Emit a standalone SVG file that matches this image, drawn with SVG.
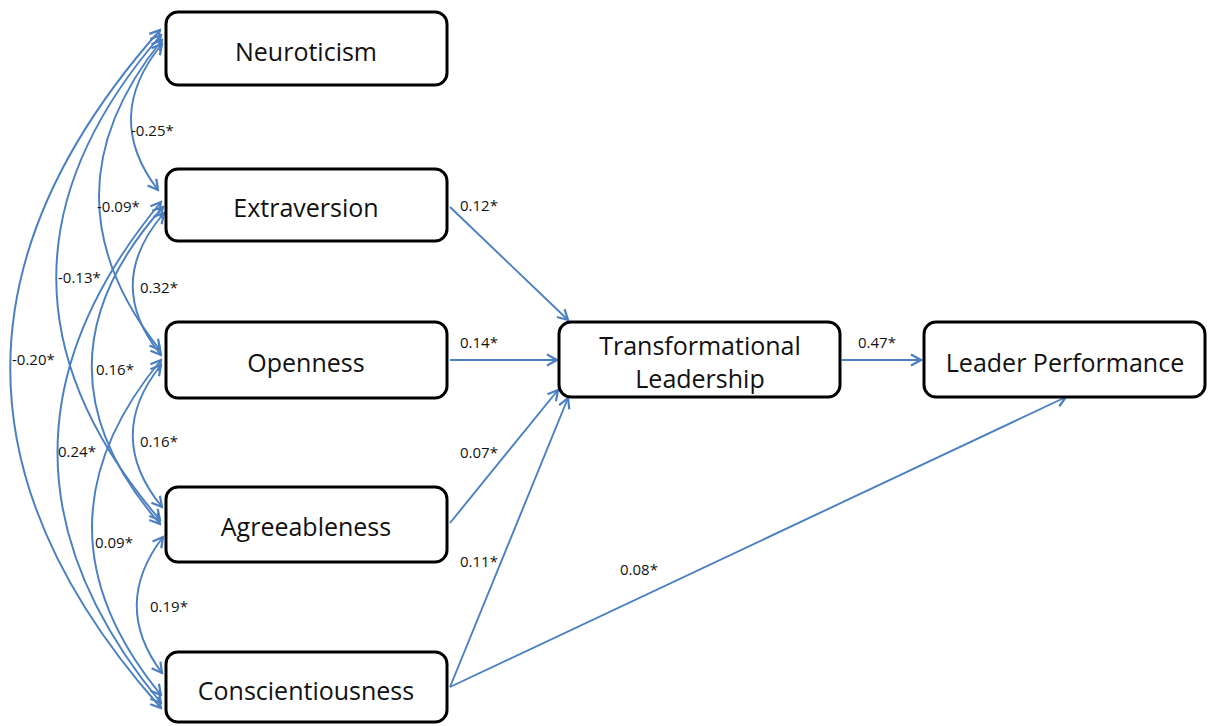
<svg xmlns="http://www.w3.org/2000/svg" width="1212" height="726" viewBox="0 0 1212 726">
<style>
.box{fill:#fff;stroke:#000;stroke-width:3}
.nt{font-family:"Open Sans","Liberation Sans",sans-serif;font-size:25px;fill:#111;text-anchor:middle}
.lb{font-family:"Open Sans","Liberation Sans",sans-serif;font-size:15px;fill:#111}
.c{fill:none;stroke:#4a7fc1;stroke-width:1.9}
</style>
<defs>
<marker id="ah" markerUnits="userSpaceOnUse" markerWidth="14" markerHeight="14" viewBox="0 0 14 14" refX="12" refY="7" orient="auto-start-reverse">
<path d="M2,1.5 L12,7 L2,12.5" fill="none" stroke="#4a7fc1" stroke-width="2.2"/>
</marker>
</defs>
<rect width="1212" height="726" fill="#fff"/>
<g id="connectors">
<path class="c" d="M162,44 Q102,117 158,190" marker-start="url(#ah)" marker-end="url(#ah)"/>
<path class="c" d="M162,40 Q37,195 160,350" marker-start="url(#ah)" marker-end="url(#ah)"/>
<path class="c" d="M161,35 Q-48,277 160,520" marker-start="url(#ah)" marker-end="url(#ah)"/>
<path class="c" d="M160,30 Q-140,369 161,708" marker-start="url(#ah)" marker-end="url(#ah)"/>
<path class="c" d="M164,213 Q103,284 161,355" marker-start="url(#ah)" marker-end="url(#ah)"/>
<path class="c" d="M163,207 Q22,365 160,524" marker-start="url(#ah)" marker-end="url(#ah)"/>
<path class="c" d="M161,202 Q-46,452 161,703" marker-start="url(#ah)" marker-end="url(#ah)"/>
<path class="c" d="M161,365 Q104,436 162,507" marker-start="url(#ah)" marker-end="url(#ah)"/>
<path class="c" d="M161,360 Q23,527 161,695" marker-start="url(#ah)" marker-end="url(#ah)"/>
<path class="c" d="M163,537 Q111,605 162,673" marker-start="url(#ah)" marker-end="url(#ah)"/>
<path class="c" d="M450,207 L568,320" marker-end="url(#ah)"/>
<path class="c" d="M450,360 L557,360" marker-end="url(#ah)"/>
<path class="c" d="M450,523 L558,390" marker-end="url(#ah)"/>
<path class="c" d="M450,687 L568,398" marker-end="url(#ah)"/>
<path class="c" d="M450,687 L1066,397" marker-end="url(#ah)"/>
<path class="c" d="M842,360 L921,360" marker-end="url(#ah)"/>
<text class="lb" x="131" y="136">-0.25*</text>
<text class="lb" x="97" y="212">-0.09*</text>
<text class="lb" x="58" y="283">-0.13*</text>
<text class="lb" x="12" y="365">-0.20*</text>
<text class="lb" x="140" y="293">0.32*</text>
<text class="lb" x="96" y="375">0.16*</text>
<text class="lb" x="58" y="457">0.24*</text>
<text class="lb" x="140" y="447">0.16*</text>
<text class="lb" x="95" y="548">0.09*</text>
<text class="lb" x="150" y="612">0.19*</text>
<text class="lb" x="460" y="211">0.12*</text>
<text class="lb" x="460" y="348">0.14*</text>
<text class="lb" x="460" y="458">0.07*</text>
<text class="lb" x="460" y="567">0.11*</text>
<text class="lb" x="620" y="575">0.08*</text>
<text class="lb" x="858" y="348">0.47*</text>
</g>
<g id="neuroticism"><rect class="box" x="166" y="12" width="281" height="73" rx="12"/><text class="nt" x="306" y="61">Neuroticism</text></g>
<g id="extraversion"><rect class="box" x="166" y="169" width="281" height="72" rx="12"/><text class="nt" x="306" y="217">Extraversion</text></g>
<g id="openness"><rect class="box" x="166" y="322" width="281" height="76" rx="12"/><text class="nt" x="306" y="372">Openness</text></g>
<g id="agreeableness"><rect class="box" x="166" y="487" width="281" height="75" rx="12"/><text class="nt" x="306" y="536">Agreeableness</text></g>
<g id="conscientiousness"><rect class="box" x="166" y="652" width="281" height="70" rx="12"/><text class="nt" x="306" y="700">Conscientiousness</text></g>
<g id="transformational-leadership"><rect class="box" x="559" y="322" width="281" height="75" rx="12"/><text class="nt" x="700" y="355">Transformational</text><text class="nt" x="700" y="388">Leadership</text></g>
<g id="leader-performance"><rect class="box" x="924" y="322" width="281" height="75" rx="12"/><text class="nt" x="1065" y="372">Leader Performance</text></g>
</svg>
